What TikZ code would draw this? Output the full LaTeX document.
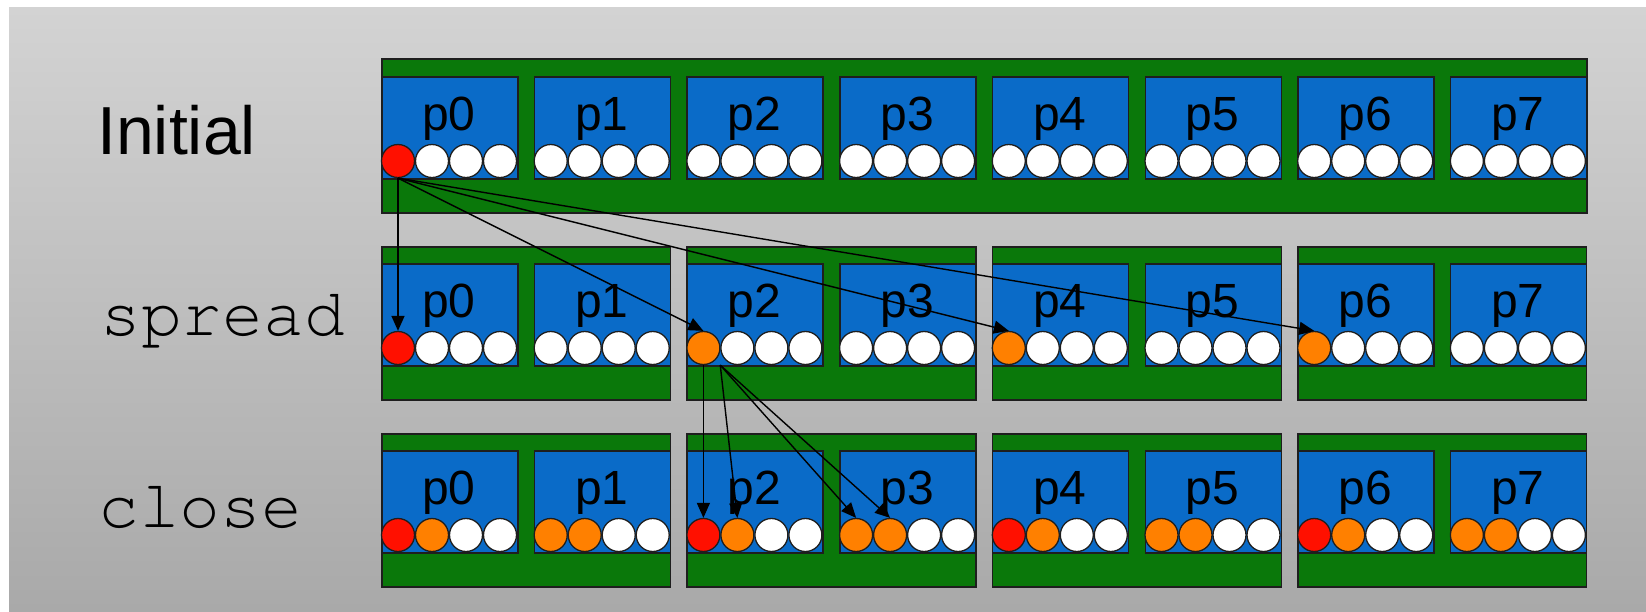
\documentclass[tikz,border=0pt]{standalone}
\usepackage{fontspec}
\setmainfont{Liberation Sans}
\newfontfamily\monof{texgyrecursor-regular.otf}
\usetikzlibrary{arrows.meta}
\definecolor{bgtop}{HTML}{D3D3D3}
\definecolor{bgbot}{HTML}{A9A9A9}
\definecolor{boxblue}{HTML}{0A6BC8}
\definecolor{boxgreen}{HTML}{0A780A}
\definecolor{dotred}{HTML}{FF1000}
\definecolor{dotorange}{HTML}{FF8000}
\definecolor{edgecol}{HTML}{1E1E1E}
\tikzset{
  greenbox/.style={draw=edgecol, line width=1.5pt, fill=boxgreen, inner sep=0, anchor=north west},
  bluebox/.style={draw=edgecol, line width=1.5pt, fill=boxblue, inner sep=0, anchor=north west, minimum width=136pt, minimum height=102pt},
  dot/.style={circle, draw=edgecol, line width=1.3pt, fill=white, inner sep=0, minimum size=33pt},
  ptext/.style={anchor=base, font=\fontsize{48}{54}\selectfont, inner sep=0},
  rowlabel/.style={anchor=base west, inner sep=0},
  link/.style={line width=1.4pt, draw=black, -{Triangle[length=15pt,width=13pt]}},
}
\newcommand{\procbox}[5]{%
  \node[bluebox] (b#1-#3) at ({381+152.7*#3},#2) {};
  \node[ptext] (t#1-#3) at ({449+152.7*#3},#2+54) {p#3};
  \node[dot,fill=#4] (d#1-#3-0) at ({398+152.7*#3},#2+85) {};
  \node[dot,fill=#5] (d#1-#3-1) at ({432+152.7*#3},#2+85) {};
  \node[dot] (d#1-#3-2) at ({466+152.7*#3},#2+85) {};
  \node[dot] (d#1-#3-3) at ({500+152.7*#3},#2+85) {};
}
\begin{document}
\begin{tikzpicture}[x=1pt,y=-1pt]
\useasboundingbox (0,0) rectangle (1646,611);
\fill[white] (0,0) rectangle (1646,611);
\shade[top color=bgtop,bottom color=bgbot] (9,7) rectangle (1646,611);

% row labels
\node[rowlabel, font=\fontsize{68}{80}\selectfont] (lab1) at (97,154) {Initial};
\node[rowlabel, font=\monof\fontsize{68}{80}\selectfont] (lab2) at (100,335) {spread};
\node[rowlabel, font=\monof\fontsize{68}{80}\selectfont] (lab3) at (98,527) {close};

% row 1
\node[greenbox, minimum width=1205pt, minimum height=154pt] (g1) at (381,58) {};
\foreach \i/\ca in {0/dotred,1/white,2/white,3/white,4/white,5/white,6/white,7/white}
  {\procbox{1}{76}{\i}{\ca}{white}}

% row 2
\foreach \k in {0,...,3}
  \node[greenbox, minimum width=288.7pt, minimum height=153pt] (g2-\k) at ({381+305.4*\k},246) {};
\foreach \i/\ca in {0/dotred,1/white,2/dotorange,3/white,4/dotorange,5/white,6/dotorange,7/white}
  {\procbox{2}{263}{\i}{\ca}{white}}

% row 3
\foreach \k in {0,...,3}
  \node[greenbox, minimum width=288.7pt, minimum height=153pt] (g3-\k) at ({381+305.4*\k},433) {};
\foreach \i/\ca/\cb in {0/dotred/dotorange,1/dotorange/dotorange,2/dotred/dotorange,3/dotorange/dotorange,4/dotred/dotorange,5/dotorange/dotorange,6/dotred/dotorange,7/dotorange/dotorange}
  {\procbox{3}{450}{\i}{\ca}{\cb}}

% arrows: spread
\draw[link] (d1-0-0.south) -- (d2-0-0.north);
\draw[link] (d1-0-0.south) -- (d2-2-0.north);
\draw[link] (d1-0-0.south) -- (d2-4-0.north);
\draw[link] (d1-0-0.south) -- (d2-6-0.north);

% arrows: close
\coordinate (src) at (d2-2-0.south -| d2-2-1.west);
\draw[link] (d2-2-0.south) -- (d3-2-0.north);
\draw[link] (src) -- (d3-2-1.north);
\draw[link] (src) -- (d3-3-0.north);
\draw[link] (src) -- (d3-3-1.north);
\end{tikzpicture}
\end{document}
